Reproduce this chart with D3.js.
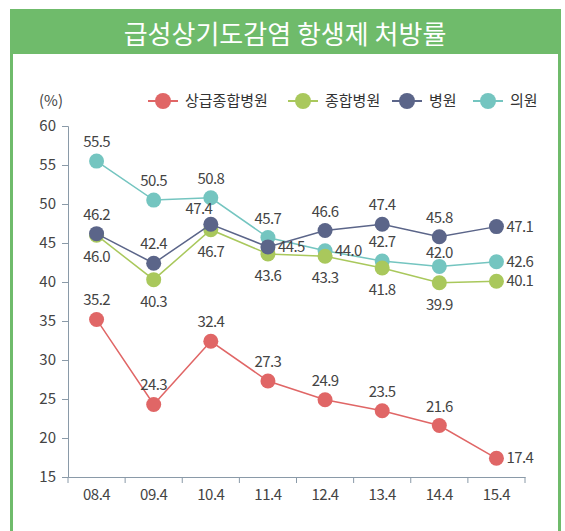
<!DOCTYPE html>
<html>
<head>
<meta charset="utf-8">
<script src="https://cdn.jsdelivr.net/npm/d3@7"></script>
<style>
  body { margin: 0; background: #fff; }
  svg text { font-family: "Noto Sans CJK KR", "Noto Sans", sans-serif; }
</style>
</head>
<body>
<svg id="svg" width="565" height="531"></svg>
<script>
const title = '급성상기도감염 항생제 처방률'
const years = ['08.4', '09.4', '10.4', '11.4', '12.4', '13.4', '14.4', '15.4']
const yTicks = [15, 20, 25, 30, 35, 40, 45, 50, 55, 60]

const seriesNames = ['상급종합병원', '종합병원', '병원', '의원']
const tertiary = [35.2, 24.3, 32.4, 27.3, 24.9, 23.5, 21.6, 17.4]
const general = [46.0, 40.3, 46.7, 43.6, 43.3, 41.8, 39.9, 40.1]
const hospital = [46.2, 42.4, 47.4, 44.5, 46.6, 47.4, 45.8, 47.1]
const clinic = [55.5, 50.5, 50.8, 45.7, 44.0, 42.7, 42.0, 42.6]

// where each value label sits: a = above, n = just above, b = below, r = right, l = above-left
const labelPos = [
	['a', 'a', 'a', 'a', 'a', 'a', 'a', 'r'],
	['b', 'b', 'b', 'b', 'b', 'b', 'b', 'r'],
	['a', 'a', 'l', 'r', 'a', 'a', 'a', 'r'],
	['a', 'a', 'a', 'a', 'r', 'a', 'n', 'r']
]
const colors = ['#e06666', '#a9c85c', '#5b6589', '#74c5c0']

const svg = d3.select('#svg')

// frame
const green = '#6fbb6b'
svg.append('rect').attr('x', 10).attr('y', 9).attr('width', 551).attr('height', 45).attr('fill', green)
svg.append('rect').attr('x', 10).attr('y', 54).attr('width', 3).attr('height', 480).attr('fill', green)
svg.append('rect').attr('x', 558).attr('y', 54).attr('width', 3).attr('height', 480).attr('fill', green)
svg.append('text')
	.attr('x', 285).attr('y', 32)
	.attr('text-anchor', 'middle')
	.attr('dominant-baseline', 'central')
	.attr('fill', '#fff')
	.attr('font-size', 26)
	.text(title)

const x = d3.scaleBand().domain(years).range([68, 525])
const y = d3.scaleLinear().domain([15, 60]).range([477, 126])
const cx = d => x(d) + x.bandwidth() / 2

const axisColor = '#8a9aa8'
const textColor = '#444'

const gy = svg.append('g')
	.attr('transform', 'translate(68,0)')
	.call(d3.axisLeft(y).tickValues(yTicks).tickSize(6).tickPadding(6))
gy.select('.domain').attr('stroke', axisColor)
gy.selectAll('line').attr('stroke', axisColor)
gy.selectAll('text').attr('font-size', 15).attr('fill', textColor).attr('font-family', null)

const gx = svg.append('g')
	.attr('transform', 'translate(0,477)')
	.call(d3.axisBottom(x).tickSize(0).tickPadding(12))
gx.select('.domain').attr('stroke', axisColor)
gx.selectAll('text').attr('font-size', 15).attr('fill', textColor).attr('font-family', null)
	.attr('letter-spacing', -0.5)
// tick marks on band edges
gx.selectAll('line.edge')
	.data([...years.map(d => x(d)), x(years[years.length - 1]) + x.bandwidth()])
	.enter().append('line')
	.attr('class', 'edge')
	.attr('x1', d => d).attr('x2', d => d)
	.attr('y1', 0).attr('y2', 6)
	.attr('stroke', axisColor)

svg.append('text')
	.attr('x', 51).attr('y', 106)
	.attr('text-anchor', 'middle')
	.attr('font-size', 15)
	.attr('fill', textColor)
	.text('(%)')

const allSeries = [tertiary, general, hospital, clinic]
const line = d3.line().x((d, i) => cx(years[i])).y(d => y(d))

// draw back to front: clinic first so hospital sits on top
const order = [0, 3, 1, 2]
order.forEach(s => {
	const vals = allSeries[s]
	const g = svg.append('g')
	g.append('path')
		.datum(vals)
		.attr('d', line)
		.attr('fill', 'none')
		.attr('stroke', colors[s])
		.attr('stroke-width', 1.5)
	g.selectAll('circle')
		.data(vals).enter()
		.append('circle')
		.attr('cx', (d, i) => cx(years[i]))
		.attr('cy', d => y(d))
		.attr('r', 7.5)
		.attr('fill', colors[s])
})

order.forEach(s => {
	const vals = allSeries[s]
	svg.append('g').selectAll('text')
		.data(vals).enter()
		.append('text')
		.attr('font-size', 15)
		.attr('fill', textColor)
		.attr('x', (d, i) => {
			const p = labelPos[s][i]
			if (p === 'r') return cx(years[i]) + 10
			if (p === 'l') return cx(years[i]) - 12
			return cx(years[i])
		})
		.attr('y', (d, i) => {
			const p = labelPos[s][i]
			if (p === 'r') return y(d) + 5
			if (p === 'b') return y(d) + 27
			if (p === 'l') return y(d) - 10
			if (p === 'n') return y(d) - 8
			return y(d) - 14
		})
		.attr('text-anchor', (d, i) => labelPos[s][i] === 'r' ? 'start' : 'middle')
		.attr('letter-spacing', -0.6)
		.text(d => d.toFixed(1))
})

// legend
const legendX = [163, 303, 407, 488]
const legend = svg.append('g')
seriesNames.forEach((name, s) => {
	const lx = legendX[s]
	legend.append('line')
		.attr('x1', lx - 15).attr('x2', lx + 15)
		.attr('y1', 101).attr('y2', 101)
		.attr('stroke', colors[s]).attr('stroke-width', 2)
	legend.append('circle')
		.attr('cx', lx).attr('cy', 101).attr('r', 8)
		.attr('fill', colors[s])
	legend.append('text')
		.attr('x', lx + 22).attr('y', 106)
		.attr('font-size', 15)
		.attr('fill', '#333')
		.text(name)
})
</script>
</body>
</html>
